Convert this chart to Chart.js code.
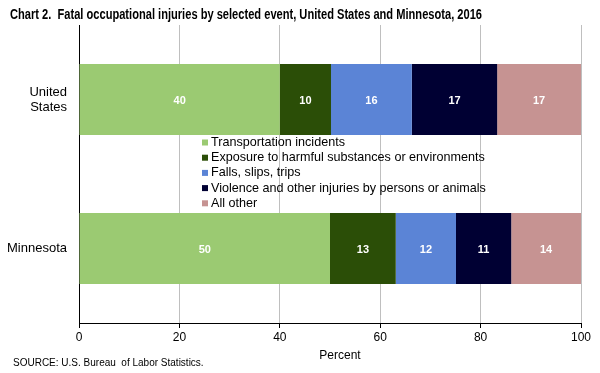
<!DOCTYPE html>
<html>
<head>
<meta charset="utf-8">
<script src="https://cdn.jsdelivr.net/npm/chart.js"></script>
<style>
  html, body { margin: 0; padding: 0; background: #fff; }
  #wrap { width: 600px; height: 373px; position: relative; }
</style>
</head>
<body>
<div id="wrap"><canvas id="chart" width="600" height="373"></canvas></div>
<script>
// Chart data
const categories = [['United', 'States'], 'Minnesota'];
const eventNames = [
    'Transportation incidents',
    'Exposure to harmful substances or environments',
    'Falls, slips, trips',
    'Violence and other injuries by persons or animals',
    'All other'
];
const transportation = [40.0, 50.0];
const exposure = [10.2, 13.1];
const falls = [16.1, 12.0];
const violence = [17.0, 11.0];
const allOther = [16.7, 13.9];
const xTicks = [0, 20, 40, 60, 80, 100];

const colors = ['#9BCA72', '#2B4E07', '#5B84D6', '#000033', '#C69392'];
const seriesValues = [transportation, exposure, falls, violence, allOther];

// White numbers in the middle of each segment
const segmentLabels = {
    id: 'segmentLabels',
    afterDatasetsDraw(chart) {
        const ctx = chart.ctx;
        ctx.save();
        ctx.font = 'bold 11px "Liberation Sans", Arial, sans-serif';
        ctx.fillStyle = '#fff';
        ctx.textAlign = 'center';
        ctx.textBaseline = 'middle';
        chart.data.datasets.forEach((ds, i) => {
            chart.getDatasetMeta(i).data.forEach((bar, j) => {
                const cx = (bar.x + bar.base) / 2;
                ctx.fillText(Math.round(ds.data[j]), cx, bar.y + 1);
            });
        });
        ctx.restore();
    }
};

// Title, legend between the bars, axis title and source note
const extras = {
    id: 'extras',
    afterDraw(chart) {
        const ctx = chart.ctx;
        ctx.save();
        ctx.textBaseline = 'middle';
        ctx.textAlign = 'left';

        ctx.fillStyle = '#000';
        ctx.font = 'bold 14px "Liberation Sans Narrow", "Liberation Sans", sans-serif';
        ctx.fillText('Chart 2.  Fatal occupational injuries by selected event, United States and Minnesota, 2016', 10, 15, 472);

        ctx.font = '12.6px "Liberation Sans", Arial, sans-serif';
        chart.data.datasets.forEach((ds, i) => {
            const y = 142.5 + i * 15.2;
            ctx.fillStyle = ds.backgroundColor;
            ctx.fillRect(202, y - 3, 6, 6);
            ctx.fillStyle = '#000';
            ctx.fillText(ds.label, 211, y);
        });

        ctx.font = '12px "Liberation Sans", Arial, sans-serif';
        ctx.textAlign = 'center';
        ctx.fillText('Percent', 340, 356);

        ctx.textAlign = 'left';
        ctx.font = '10px "Liberation Sans", Arial, sans-serif';
        ctx.fillText('SOURCE: U.S. Bureau  of Labor Statistics.', 13, 363);
        ctx.restore();
    }
};

new Chart(document.getElementById('chart'), {
    type: 'bar',
    data: {
        labels: categories,
        datasets: seriesValues.map((vals, i) => ({
            label: eventNames[i],
            data: vals,
            backgroundColor: colors[i],
            borderWidth: 0,
            categoryPercentage: 1,
            barPercentage: 0.477
        }))
    },
    options: {
        indexAxis: 'y',
        responsive: false,
        animation: false,
        layout: { padding: { top: 25, right: 19, bottom: 0, left: 0 } },
        plugins: {
            legend: { display: false },
            title: { display: false },
            tooltip: { enabled: false }
        },
        scales: {
            x: {
                stacked: true,
                min: 0,
                max: 100,
                afterBuildTicks: s => { s.ticks = xTicks.map(v => ({ value: v })); },
                afterFit: s => { s.height = 50; },
                grid: { color: '#BFBFBF', tickColor: '#000', tickLength: 5 },
                border: { color: '#000', width: 1 },
                ticks: {
                    color: '#000',
                    padding: 2,
                    maxRotation: 0,
                    font: { family: '"Liberation Sans", Arial, sans-serif', size: 12 }
                }
            },
            y: {
                stacked: true,
                afterFit: s => { s.width = 79; },
                grid: { display: false },
                border: { color: '#000', width: 1 },
                ticks: {
                    color: '#000',
                    padding: 4,
                    font: { family: '"Liberation Sans", Arial, sans-serif', size: 13, lineHeight: 1.15 }
                }
            }
        }
    },
    plugins: [segmentLabels, extras]
});
</script>
</body>
</html>
